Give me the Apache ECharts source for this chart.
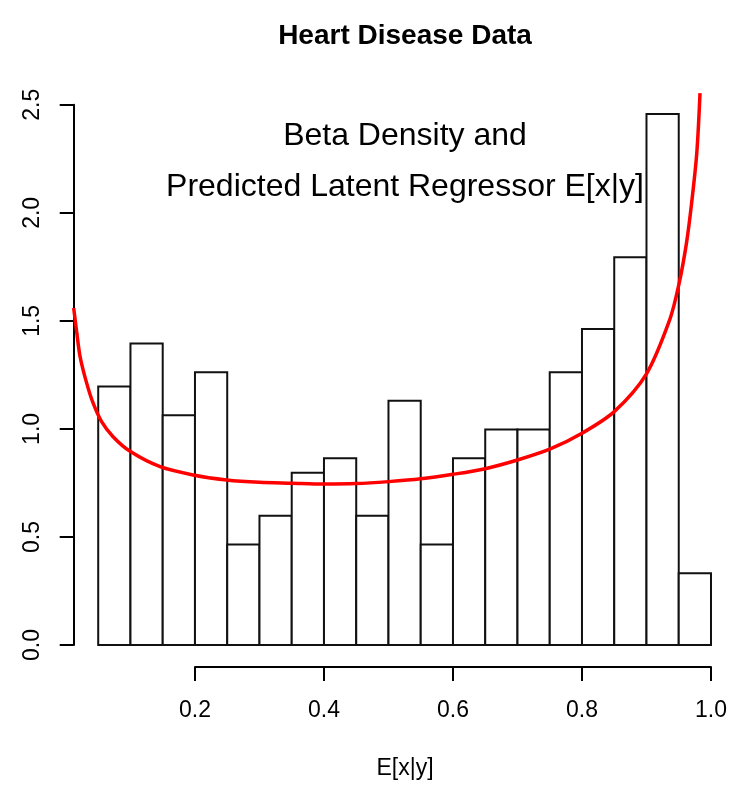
<!DOCTYPE html>
<html>
<head>
<meta charset="utf-8">
<script src="https://cdn.jsdelivr.net/npm/echarts@6/dist/echarts.min.js"></script>
<style>html,body{margin:0;padding:0;background:#fff;}#c{width:750px;height:795px;}</style>
</head>
<body>
<div id="c"></div>
<script>
// Histogram bin breaks and densities
var breaks = [0.05,0.10,0.15,0.20,0.25,0.30,0.35,0.40,0.45,0.50,0.55,0.60,0.65,0.70,0.75,0.80,0.85,0.90,0.95,1.00];
var densities = [1.196,1.395,1.063,1.262,0.465,0.598,0.797,0.864,0.598,1.130,0.465,0.864,0.997,0.997,1.262,1.462,1.794,2.458,0.332];
// Beta density curve points
var curveX = [0.012,0.017,0.022,0.032,0.042,0.055,0.073,0.1,0.146,0.197,0.249,0.3,0.35,0.4,0.45,0.5,0.55,0.6,0.65,0.7,0.75,0.8,0.85,0.9,0.936,0.95,0.962,0.97,0.978,0.983];
var curveY = [1.56,1.44,1.333,1.213,1.12,1.035,0.964,0.895,0.825,0.787,0.764,0.753,0.749,0.745,0.747,0.756,0.769,0.79,0.816,0.856,0.906,0.98,1.08,1.255,1.505,1.665,1.86,2.046,2.278,2.554];
var xTicks = [0.2,0.4,0.6,0.8,1.0];
var yTicks = [0.0,0.5,1.0,1.5,2.0,2.5];

var FONT = 'Liberation Sans, Arial, Helvetica, sans-serif';
var histData = densities.map(function(d,i){ return [breaks[i], breaks[i+1], d]; });
var curveData = curveX.map(function(x,i){ return [x, curveY[i]]; });

var chart = echarts.init(document.getElementById('c'), null, {renderer:'canvas'});
chart.setOption({
  backgroundColor:'#ffffff',
  animation:false,
  grid:[
    {left:73.7, right:14.5, top:72, bottom:128},
    {left:195, right:39, top:72, bottom:128},
    {left:73.7, right:14.5, top:104.8, bottom:150}
  ],
  xAxis:[
    {gridIndex:0, type:'value', min:0.012, max:1.038, show:false},
    {gridIndex:1, type:'value', min:0.2, max:1.0, interval:0.2,
      axisLine:{show:true, onZero:false, lineStyle:{color:'#000', width:2}},
      axisTick:{show:true, length:14, lineStyle:{color:'#000', width:2}},
      axisLabel:{show:true, color:'#000', fontSize:23, fontFamily:FONT, margin:32,
        showMinLabel:true, showMaxLabel:true,
        formatter:function(v){ return v.toFixed(1); }},
      splitLine:{show:false}},
    {gridIndex:2, type:'value', min:0, max:1, show:false}
  ],
  yAxis:[
    {gridIndex:0, type:'value', min:-0.102, max:2.652, show:false},
    {gridIndex:1, type:'value', min:0, max:1, show:false},
    {gridIndex:2, type:'value', min:0, max:2.5, interval:0.5,
      axisLine:{show:true, onZero:false, lineStyle:{color:'#000', width:2}},
      axisTick:{show:true, length:14, lineStyle:{color:'#000', width:2}},
      axisLabel:{show:true, color:'#000', fontSize:23, fontFamily:FONT, margin:30, rotate:90,
        showMinLabel:true, showMaxLabel:true,
        formatter:function(v){ return v.toFixed(1); }},
      splitLine:{show:false}}
  ],
  graphic:[
    {type:'text', x:405, y:36, style:{text:'Heart Disease Data', fill:'#000', font:'bold 28px '+FONT, textAlign:'center', textVerticalAlign:'middle'}},
    {type:'text', x:405, y:136, style:{text:'Beta Density and', fill:'#000', font:'32px '+FONT, textAlign:'center', textVerticalAlign:'middle'}},
    {type:'text', x:405, y:187, style:{text:'Predicted Latent Regressor E[x|y]', fill:'#000', font:'32px '+FONT, textAlign:'center', textVerticalAlign:'middle'}},
    {type:'text', x:405, y:769, style:{text:'E[x|y]', fill:'#000', font:'23px '+FONT, textAlign:'center', textVerticalAlign:'middle'}}
  ],
  series:[
    {type:'custom', xAxisIndex:0, yAxisIndex:0, z:2, data:histData,
      renderItem:function(params, api){
        var p0 = api.coord([api.value(0), api.value(2)]);
        var p1 = api.coord([api.value(1), 0]);
        return {type:'rect', shape:{x:p0[0], y:p0[1], width:p1[0]-p0[0], height:p1[1]-p0[1]},
          style:{fill:'#ffffff', stroke:'#111', lineWidth:2}};
      }},
    {type:'line', xAxisIndex:0, yAxisIndex:0, z:5, data:curveData, smooth:0.3, showSymbol:false,
      lineStyle:{color:'#ff0000', width:3.5}}
  ]
});
</script>
</body>
</html>
